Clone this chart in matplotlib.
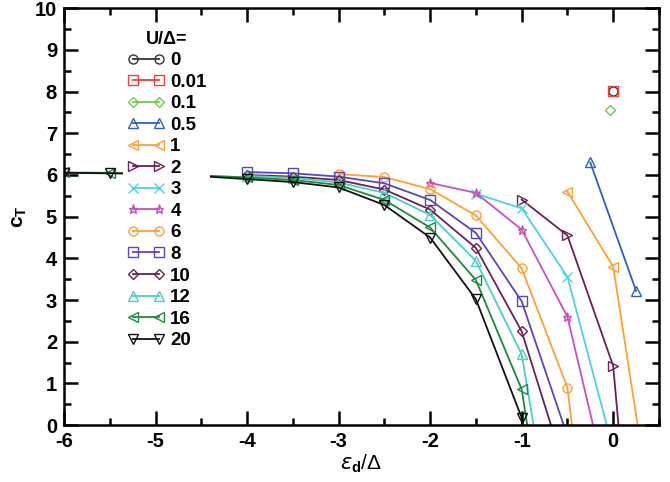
import matplotlib
matplotlib.use("Agg")
import matplotlib.pyplot as plt
from matplotlib.ticker import MultipleLocator

plt.rcParams["font.family"] = ["Liberation Sans", "DejaVu Sans"]
plt.rcParams["axes.unicode_minus"] = False
plt.rcParams["mathtext.fontset"] = "custom"
plt.rcParams["mathtext.rm"] = "Liberation Serif"
plt.rcParams["mathtext.sf"] = "Liberation Sans"
plt.rcParams["mathtext.bf"] = "Liberation Sans:bold"

# U/Delta values and c_T curves
U_LABELS = ["0", "0.01", "0.1", "0.5", "1", "2", "3", "4", "6", "8", "10", "12", "16", "20"]

X_U0 = [0.0]
Y_U0 = [8.02]
X_U001 = [0.0]
Y_U001 = [8.02]
X_U01 = [-0.04]
Y_U01 = [7.56]
X_U05 = [-0.25, 0.25]
Y_U05 = [6.3, 3.22]
X_U1 = [-0.5, 0.0, 0.5]
Y_U1 = [5.6, 3.8, -3.3]
X_U2 = [-1.0, -0.5, 0.0, 0.5]
Y_U2 = [5.41, 4.55, 1.42, -10.8]
X_U3 = [-1.5, -1.0, -0.5, 0.0]
Y_U3 = [5.55, 5.2, 3.56, -0.58]
X_U4 = [-2.0, -1.5, -1.0, -0.5, 0.0]
Y_U4 = [5.81, 5.57, 4.69, 2.6, -2.04]
X_U6 = [-3.0, -2.5, -2.0, -1.5, -1.0, -0.5, 0.0]
Y_U6 = [6.02, 5.95, 5.66, 5.03, 3.76, 0.9, -8.1]
X_U8 = [-4.0, -3.5, -3.0, -2.5, -2.0, -1.5, -1.0, -0.5]
Y_U8 = [6.07, 6.04, 5.96, 5.8, 5.4, 4.61, 2.97, -0.26]
X_U10 = [-4.0, -3.5, -3.0, -2.5, -2.0, -1.5, -1.0, -0.5]
Y_U10 = [6.0, 5.96, 5.88, 5.65, 5.17, 4.25, 2.25, -1.26]
X_U12 = [-4.0, -3.5, -3.0, -2.5, -2.0, -1.5, -1.0, -0.5]
Y_U12 = [5.98, 5.93, 5.82, 5.57, 5.04, 3.94, 1.7, -4.8]
X_U16 = [-6.0, -5.5, -5.0, -4.5, -4.0, -3.5, -3.0, -2.5, -2.0, -1.5, -1.0, -0.5]
Y_U16 = [6.06, 6.05, 6.03, 5.99, 5.94, 5.88, 5.76, 5.4, 4.74, 3.48, 0.86, -6.2]
X_U20 = [-6.0, -5.5, -5.0, -4.5, -4.0, -3.5, -3.0, -2.5, -2.0, -1.5, -1.0, -0.5]
Y_U20 = [6.05, 6.04, 6.02, 5.97, 5.9, 5.83, 5.7, 5.28, 4.5, 3.02, 0.18, -8.0]

SERIES_X = [X_U0, X_U001, X_U01, X_U05, X_U1, X_U2, X_U3, X_U4, X_U6, X_U8, X_U10, X_U12, X_U16, X_U20]
SERIES_Y = [Y_U0, Y_U001, Y_U01, Y_U05, Y_U1, Y_U2, Y_U3, Y_U4, Y_U6, Y_U8, Y_U10, Y_U12, Y_U16, Y_U20]

COLORS = ["#333333", "#e8403a", "#6ccc4c", "#2f5fc4", "#ffa030", "#6e1f55", "#4fd0e8",
          "#c84fbf", "#ffa030", "#5a45c0", "#6e1f55", "#4ad0c0", "#1e8a3c", "#111111"]
MARKERS = ["o", "s", "D", "^", "<", ">", "x", "*", "o", "s", "D", "^", "<", "v"]


def draw_series(ax) -> None:
    for x, y, label, color, marker in zip(SERIES_X, SERIES_Y, U_LABELS, COLORS, MARKERS):
        size = 5 if marker == "D" else 6.5
        ax.plot(x, y, color=color, marker=marker, markersize=size, markerfacecolor="none",
                markeredgecolor=color, markeredgewidth=1.0, linewidth=1.3, label=label)


def style_axes(ax) -> None:
    ax.set_xlim(-6, 0.5)
    ax.set_ylim(0, 10)
    ax.xaxis.set_major_locator(MultipleLocator(1))
    ax.xaxis.set_minor_locator(MultipleLocator(0.5))
    ax.yaxis.set_major_locator(MultipleLocator(1))
    ax.yaxis.set_minor_locator(MultipleLocator(0.5))
    ax.tick_params(which="both", direction="in", top=True, right=True, width=1.8, labelsize=14.5)
    ax.tick_params(which="major", length=10, pad=5)
    ax.tick_params(which="minor", length=5)
    for label in ax.get_xticklabels() + ax.get_yticklabels():
        label.set_fontweight("bold")
    for spine in ax.spines.values():
        spine.set_linewidth(1.8)
    ax.set_xlabel(r"$\epsilon_{\mathbf{d}}\mathsf{/\Delta}$", fontsize=15, labelpad=1)
    ax.set_ylabel(r"$\mathbf{c_T}$", fontsize=15, labelpad=4)


def draw_legend(ax) -> None:
    leg = ax.legend(loc="upper left", bbox_to_anchor=(0.1, 0.955), numpoints=2,
                    handlelength=2.0, handletextpad=0.3, labelspacing=0.235,
                    borderaxespad=0, borderpad=0.2, frameon=True, framealpha=1,
                    facecolor="white", edgecolor="none", fancybox=False,
                    title="U/Δ=", prop={"weight": "bold", "size": 13.5})
    leg.get_title().set_fontweight("bold")
    leg.get_title().set_fontsize(13)


def main() -> None:
    fig = plt.figure(figsize=(6.7, 4.82), dpi=100)
    ax = fig.add_axes([0.0955, 0.118, 0.888, 0.865])
    draw_series(ax)
    style_axes(ax)
    draw_legend(ax)
    fig.savefig("out.png", dpi=100)


if __name__ == "__main__":
    main()
